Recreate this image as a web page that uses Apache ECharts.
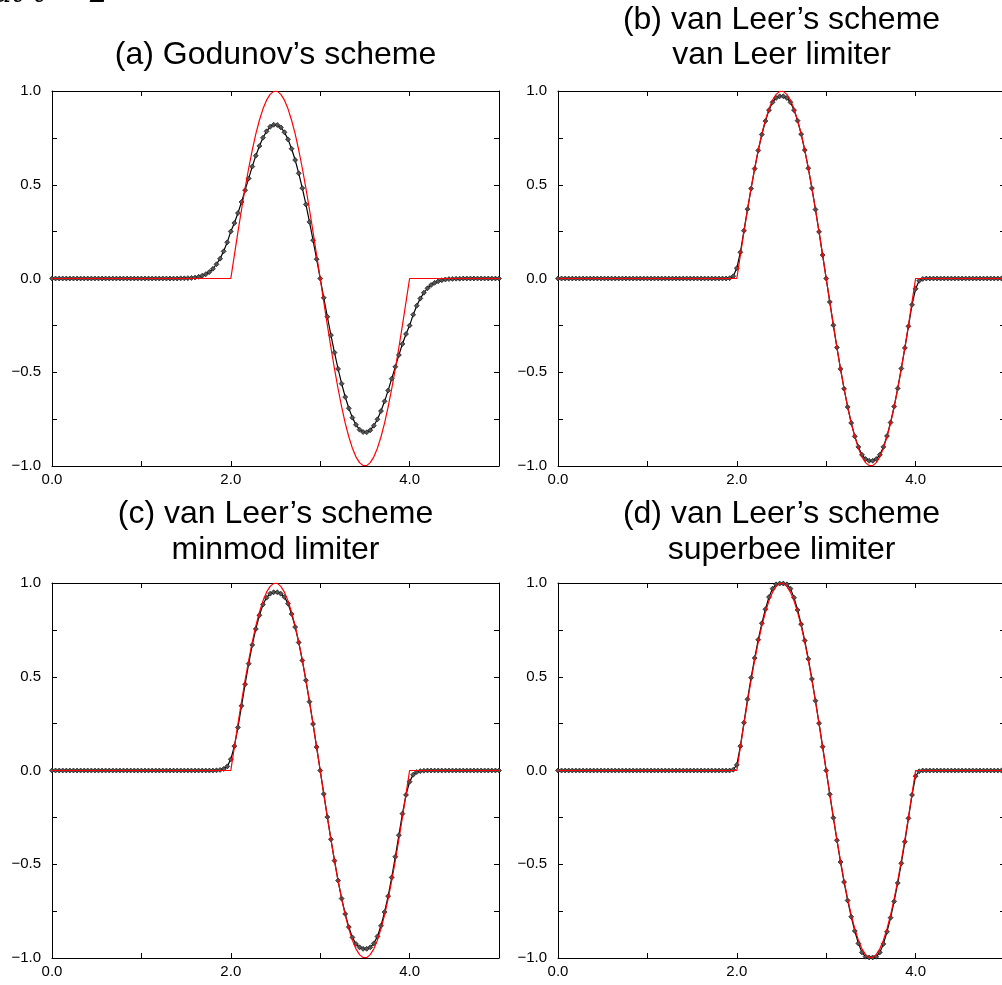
<!DOCTYPE html>
<html>
<head>
<meta charset="utf-8">
<script src="https://cdn.jsdelivr.net/npm/echarts@6/dist/echarts.min.js"></script>
<style>
html,body{margin:0;padding:0;background:#fff;}
#chart{width:1002px;height:985px;}
</style>
</head>
<body>
<div id="chart"></div>
<script>
// grid spacing of the numerical solution (x = i * dx, i = 0..125)
const dx = 0.04;

// exact solution (red)
const exact = [
0,0,0,0,0,0,0,0,0,0,
0,0,0,0,0,0,0,0,0,0,
0,0,0,0,0,0,0,0,0,0,
0,0,0,0,0,0,0,0,0,0,
0,0,0,0,0,0,0,0,0,0,
0,0.125,0.249,0.368,0.482,0.588,0.685,0.771,0.844,0.905,
0.951,0.982,0.998,0.998,0.982,0.951,0.905,0.844,0.771,0.685,
0.588,0.482,0.368,0.249,0.125,0,
-0.125,-0.249,-0.368,-0.482,-0.588,-0.685,-0.771,-0.844,-0.905,-0.951,
-0.982,-0.998,-0.998,-0.982,-0.951,-0.905,-0.844,-0.771,-0.685,-0.588,
-0.482,-0.368,-0.249,-0.125,0,
0,0,0,0,0,0,0,0,0,0,
0,0,0,0,0,0,0,0,0,0,
0,0,0,0,0
];

// (a) Godunov's scheme
const godunov = [
0,0,0,0,0,0,0,0,0,0,
0,0,0,0,0,0,0,0,0,0,
0,0,0,0,0,0,0,0,0,0,
0,0,0,0,0,0,
0.001,0.001,0.002,0.003,0.005,0.009,0.015,0.023,0.035,0.052,
0.076,0.106,0.145,0.193,0.251,0.296,0.349,0.408,0.471,0.534,
0.597,0.655,0.707,0.751,0.785,0.809,0.820,0.819,0.806,0.780,
0.742,0.692,0.632,0.561,0.482,0.395,0.302,0.204,0.103,0,
-0.103,-0.204,-0.302,-0.395,-0.482,-0.561,-0.632,-0.692,-0.742,-0.780,
-0.806,-0.819,-0.820,-0.809,-0.785,-0.751,-0.707,-0.655,-0.597,-0.534,
-0.471,-0.408,-0.349,-0.296,-0.251,-0.193,-0.145,-0.106,-0.076,-0.052,
-0.035,-0.023,-0.015,-0.009,-0.005,-0.003,-0.002,-0.001,-0.001,
0,0,0,0,0,0,0,0,0,0,0
];

// (b) van Leer's scheme, van Leer limiter
const vanLeer = [
0,0,0,0,0,0,0,0,0,0,
0,0,0,0,0,0,0,0,0,0,
0,0,0,0,0,0,0,0,0,0,
0,0,0,0,0,0,0,0,0,0,
0,0,0,0,0,0,0,0,
0.002,0.012,0.055,0.14,0.255,0.37,0.48,0.586,0.683,0.768,
0.84,0.898,0.94,0.963,0.972,0.972,0.963,0.94,0.898,0.842,
0.77,0.685,0.588,0.482,0.368,0.249,0.125,0,
-0.125,-0.249,-0.368,-0.482,-0.588,-0.685,-0.77,-0.842,-0.898,-0.94,
-0.963,-0.972,-0.972,-0.963,-0.94,-0.898,-0.84,-0.768,-0.683,-0.586,
-0.48,-0.37,-0.255,-0.14,-0.055,-0.012,-0.002,
0,0,0,0,0,0,0,0,0,0,
0,0,0,0,0,0,0,0,0,0,
0,0,0
];

// (c) van Leer's scheme, minmod limiter
const minmod = [
0,0,0,0,0,0,0,0,0,0,
0,0,0,0,0,0,0,0,0,0,
0,0,0,0,0,0,0,0,0,0,
0,0,0,0,0,0,0,0,0,0,
0,0,0,0,0,0,
0.001,0.003,0.008,0.022,0.06,0.13,0.23,0.345,0.46,0.57,
0.67,0.755,0.828,0.885,0.922,0.943,0.951,0.951,0.943,0.925,
0.89,0.835,0.765,0.683,0.587,0.481,0.367,0.248,0.125,0,
-0.125,-0.248,-0.367,-0.481,-0.587,-0.683,-0.765,-0.835,-0.89,-0.925,
-0.943,-0.951,-0.951,-0.943,-0.922,-0.885,-0.828,-0.755,-0.67,-0.57,
-0.46,-0.345,-0.23,-0.13,-0.06,-0.022,-0.008,-0.003,-0.001,
0,0,0,0,0,0,0,0,0,0,
0,0,0,0,0,0,0,0,0,0,
0
];

// (d) van Leer's scheme, superbee limiter
const superbee = [
0,0,0,0,0,0,0,0,0,0,
0,0,0,0,0,0,0,0,0,0,
0,0,0,0,0,0,0,0,0,0,
0,0,0,0,0,0,0,0,0,0,
0,0,0,0,0,0,0,0,0,
0.004,0.03,0.13,0.255,0.38,0.495,0.60,0.698,0.785,0.86,
0.925,0.97,0.993,0.997,0.997,0.993,0.97,0.922,0.856,0.78,
0.693,0.595,0.488,0.372,0.252,0.127,0,
-0.127,-0.252,-0.372,-0.488,-0.595,-0.693,-0.78,-0.856,-0.922,-0.97,
-0.993,-0.997,-0.997,-0.993,-0.97,-0.925,-0.86,-0.785,-0.698,-0.60,
-0.495,-0.38,-0.255,-0.13,-0.03,-0.004,
0,0,0,0,0,0,0,0,0,0,
0,0,0,0,0,0,0,0,0,0,
0,0,0,0
];

const titles = [
  ["(a) Godunov\u2019s scheme"],
  ["(b) van Leer\u2019s scheme", "van Leer limiter"],
  ["(c) van Leer\u2019s scheme", "minmod limiter"],
  ["(d) van Leer\u2019s scheme", "superbee limiter"]
];
const panels = [godunov, vanLeer, minmod, superbee];

const xTickLabels = ["0.0", "2.0", "4.0"];
const yTickLabels = ["\u22121.0", "\u22120.5", "0.0", "0.5", "1.0"];

const FONT = '"Liberation Sans", Arial, Helvetica, sans-serif';
const gridPos = [
  {left: 52, top: 91}, {left: 558, top: 91},
  {left: 52, top: 583}, {left: 558, top: 583}
];
const GW = 447, GH = 375;

function pairs(arr) { return arr.map((v, i) => [+(i * dx).toFixed(2), v]); }

function xFmt(v) {
  const r = Math.round(v);
  if (r % 2 !== 0) return '';
  const s = v.toFixed(1);
  return xTickLabels.indexOf(s) >= 0 ? s : '';
}
function yFmt(v) {
  const r = Math.round(v * 4);
  if (r % 2 !== 0) return '';
  return yTickLabels[r / 2 + 2] || '';
}

const grid = [], xAxis = [], yAxis = [], series = [], graphic = [];
gridPos.forEach((g, k) => {
  grid.push({left: g.left, top: g.top, width: GW, height: GH, containLabel: false, outerBoundsMode: 'none'});
  const lineStyle = {color: '#000', width: 1};
  const baseX = {type: 'value', gridIndex: k, min: 0, max: 5, interval: 1,
    axisLine: {show: true, onZero: false, lineStyle},
    axisTick: {show: true, inside: true, length: 5, lineStyle},
    splitLine: {show: false}};
  xAxis.push(Object.assign({}, baseX, {position: 'bottom',
    axisLabel: {show: true, formatter: xFmt, margin: 6, color: '#000', fontSize: 15, fontFamily: FONT}}));
  xAxis.push(Object.assign({}, baseX, {position: 'top', axisLabel: {show: false}}));
  const baseY = {type: 'value', gridIndex: k, min: -1, max: 1, interval: 0.25,
    axisLine: {show: true, onZero: false, lineStyle},
    axisTick: {show: true, inside: true, length: 5, lineStyle},
    splitLine: {show: false}};
  yAxis.push(Object.assign({}, baseY, {position: 'left',
    axisLabel: {show: true, formatter: yFmt, margin: 11, color: '#000', fontSize: 15, fontFamily: FONT}}));
  yAxis.push(Object.assign({}, baseY, {position: 'right', axisLabel: {show: false}}));

  series.push({type: 'line', xAxisIndex: 2 * k, yAxisIndex: 2 * k, data: pairs(panels[k]),
    symbol: 'diamond', symbolSize: 5, showSymbol: true, showAllSymbol: true,
    lineStyle: {color: '#000', width: 1.2},
    itemStyle: {color: '#555', borderColor: '#000', borderWidth: 0.6},
    z: 2, animation: false, silent: true});
  series.push({type: 'line', xAxisIndex: 2 * k, yAxisIndex: 2 * k, data: pairs(exact),
    symbol: 'none', showSymbol: false,
    lineStyle: {color: '#ff0000', width: 1.2},
    z: 3, animation: false, silent: true});

  const cx = g.left + GW / 2;
  const lines = titles[k];
  const ys = k === 0 ? [55] : (k === 1 ? [20, 55] : [514, 550]);
  lines.forEach((t, j) => {
    graphic.push({type: 'text', x: cx, y: ys[j], silent: true,
      style: {text: t, font: '32px ' + FONT, fill: '#000',
        align: 'center', verticalAlign: 'middle', textAlign: 'center', textVerticalAlign: 'middle'}});
  });
});

// partially visible heading at top-left (cut off by the page edge)
graphic.push({type: 'text', x: -6, y: 9, silent: true,
  style: {text: 'at t = 2', font: 'italic 30px "DejaVu Serif", serif', fill: '#000',
    align: 'left', verticalAlign: 'bottom', textAlign: 'left', textVerticalAlign: 'bottom'}});

const chart = echarts.init(document.getElementById('chart'), null, {renderer: 'canvas'});
chart.setOption({
  animation: false,
  backgroundColor: '#fff',
  grid, xAxis, yAxis, series, graphic
});
</script>
</body>
</html>
